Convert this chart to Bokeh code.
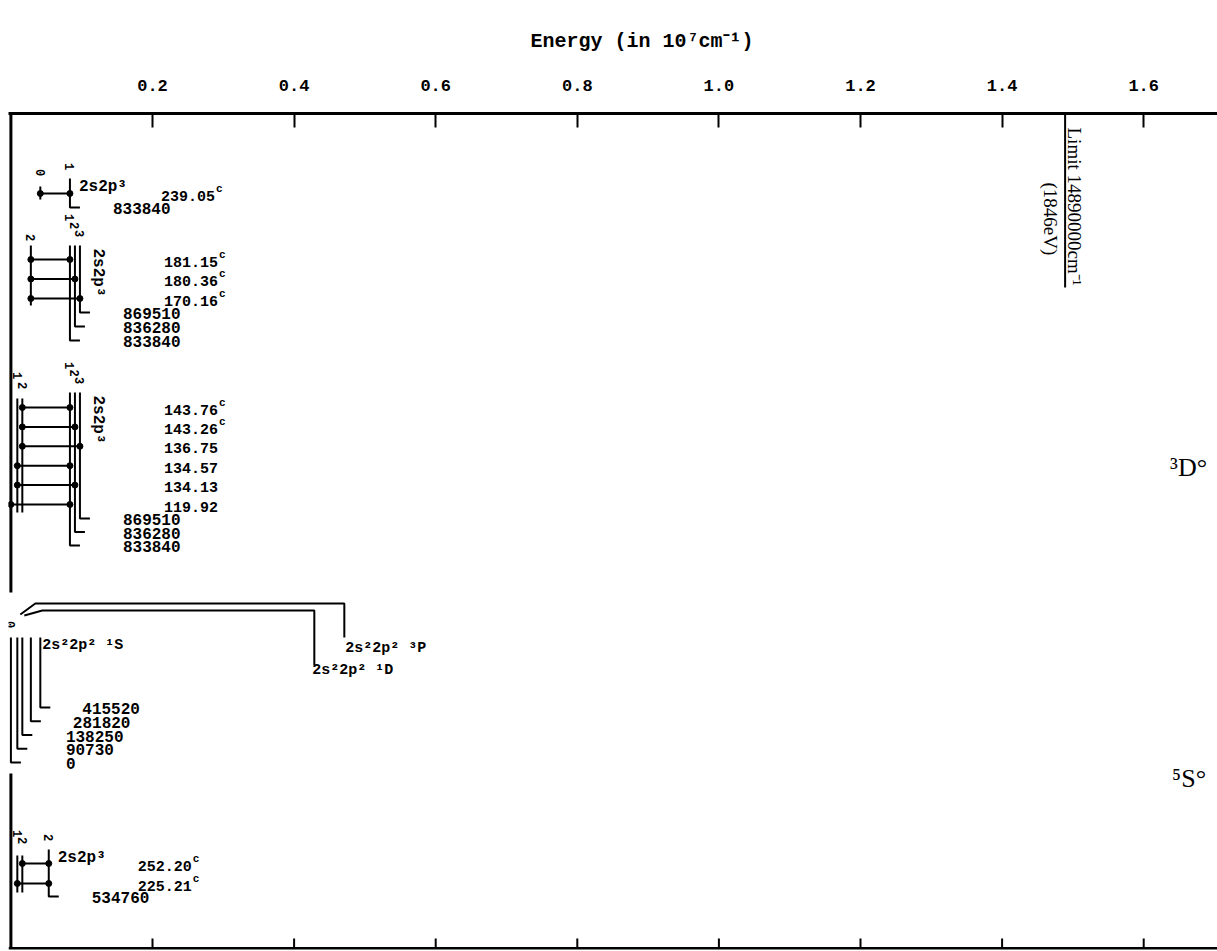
import math
from bokeh.plotting import figure
from bokeh.models import Range1d, FixedTicker, NumeralTickFormatter, Title
from bokeh.core.properties import value
from bokeh.embed import file_html
from bokeh.resources import INLINE

# ---------------- data ----------------
axis_ticks = [0.2, 0.4, 0.6, 0.8, 1.0, 1.2, 1.4, 1.6]
title_text = "Energy (in 10⁷cm⁻¹)"
limit_cm = 14890000
limit_text = "Limit 14890000cm⁻¹"
limit_ev_text = "(1846eV)"

# group 1 : 2s2p3 (J=1) - 2s2 2p2 1S0
g1_lower_E = [415520]
g1_lower_J = ["0"]
g1_upper_E = [833840]
g1_upper_J = ["1"]
g1_tr_lower = [0]
g1_tr_upper = [0]
g1_wavelength = ["239.05"]
g1_calc = [True]

# group 2 : 2s2p3 - 2s2 2p2 1D2
g2_lower_E = [281820]
g2_lower_J = ["2"]
g2_upper_E = [833840, 836280, 869510]
g2_upper_J = ["1", "2", "3"]
g2_tr_lower = [0, 0, 0]
g2_tr_upper = [0, 1, 2]
g2_wavelength = ["181.15", "180.36", "170.16"]
g2_calc = [True, True, True]

# group 3 : 2s2p3 3D - 2s2 2p2 3P
g3_lower_E = [0, 90730, 138250]
g3_lower_J = ["", "1", "2"]
g3_upper_E = [833840, 836280, 869510]
g3_upper_J = ["1", "2", "3"]
g3_tr_lower = [2, 2, 2, 1, 1, 0]
g3_tr_upper = [0, 1, 2, 0, 1, 0]
g3_wavelength = ["143.76", "143.26", "136.75", "134.57", "134.13", "119.92"]
g3_calc = [True, True, False, False, False, False]
g3_term = "³D°"

# ground configuration 2s2 2p2
gr_E = [0, 90730, 138250, 281820, 415520]
gr_label_1S = "2s²2p² ¹S"
gr_label_3P = "2s²2p² ³P"
gr_label_1D = "2s²2p² ¹D"

# group 5 : 2s2p3 5S - 2s2 2p2 3P
g5_lower_E = [0, 90730, 138250]
g5_lower_J = ["", "1", "2"]
g5_upper_E = [534760]
g5_upper_J = ["2"]
g5_tr_lower = [2, 1]
g5_tr_upper = [0, 0]
g5_wavelength = ["252.20", "225.21"]
g5_calc = [True, True]
g5_term = "⁵S°"

upper_config = "2s2p³"

# ---------------- layout ----------------
PX = 708.0                 # pixels per 10^7 cm^-1
ORIGIN_PX = 2.4            # pixel of zero energy from frame left
GAP = 5.0 / PX             # minimum drawn separation of close levels
L_LEN = 10.0 / PX
FONT = value("Liberation Mono")
WL_SIZE = 15
CW = 0.6 * WL_SIZE         # mono char width
SERIF = value("Liberation Serif")


def dx(px):
    return px / PX


def spread(E):
    xs, prev = [], None
    for e in E:
        x = e / 1e7
        if prev is not None and x < prev + GAP:
            x = prev + GAP
        xs.append(x)
        prev = x
    return xs


W, H = 1217, 951
BL, BT, BB = 8, 113, 2
x0 = -ORIGIN_PX / PX
YB, YT = 949, 113
p = figure(width=W, height=H,
           x_range=Range1d(x0, x0 + (W - BL) / PX),
           y_range=Range1d(YB, YT),
           output_backend="svg", toolbar_location=None,
           x_axis_location="above", y_axis_location=None,
           min_border_left=BL, min_border_right=0,
           min_border_top=BT, min_border_bottom=BB,
           title=Title(text=title_text, align="left", offset=522,
                       text_font="Liberation Mono", text_font_size="20px",
                       text_font_style="bold", text_color="black", standoff=47))
p.outline_line_color = None
p.xgrid.visible = False
p.ygrid.visible = False
p.background_fill_color = "white"

ax = p.xaxis[0]
ax.ticker = FixedTicker(ticks=axis_ticks)
ax.formatter = NumeralTickFormatter(format="0.0")
ax.major_tick_in = 14
ax.major_tick_out = 0
ax.minor_tick_in = 0
ax.minor_tick_out = 0
ax.axis_line_width = 3
ax.major_tick_line_width = 2
ax.major_label_standoff = 23
ax.major_label_text_font = "Liberation Mono"
ax.major_label_text_font_style = "bold"
ax.major_label_text_font_size = "17px"
ax.major_label_text_align = "left"
ax.major_label_text_color = "black"

LW = 2


def seg(xa, ya, xb, yb, w=LW):
    p.segment(x0=[xa], y0=[ya], x1=[xb], y1=[yb], line_color="black", line_width=w)


def txt(x, y, t, size="15px", align="left", angle=0.0, xo=0, yo=0, font=FONT, style="bold"):
    p.text(x=[x], y=[y], text=[t], text_font=font, text_font_style=style,
           text_font_size=size, text_align=align, text_baseline="middle",
           angle=angle, x_offset=xo, y_offset=yo, text_color="black")


def dots(xs, ys):
    p.scatter(x=xs, y=ys, size=6, color="black")


ROT = -math.pi / 2

# bottom axis line with inward ticks
seg(x0, 948, x0 + (W - BL) / PX, 948, 3)
p.segment(x0=axis_ticks, y0=[948] * len(axis_ticks), x1=axis_ticks, y1=[938] * len(axis_ticks),
          line_color="black", line_width=2)

# left frame (broken where the ground configuration sits)
seg(0, 113, 0, 592, 3)
seg(0, 773, 0, 948, 3)


def draw_group(lower_E, lower_J, upper_E, upper_J, tr_lo, tr_up, wls, calc, lay):
    lx = spread(lower_E)
    ux = spread(upper_E)
    # lower levels
    for x, e in zip(lx, lower_E):
        if e != 0:
            seg(x, lay["lo_top"], x, lay["lo_bot"])
    k = 0
    for x, j in zip(lx, lower_J):
        if j:
            txt(x, lay["jl_y0"] + k * lay["jl_step"], j, size="12px", align="center", angle=ROT)
            k += 1
    # upper levels with L-shaped tails
    order = sorted(range(len(ux)), key=lambda i: -ux[i])
    xr = ux[order[0]] + L_LEN
    xs_l, ys_l = [], []
    for k, i in enumerate(order):
        yb = lay["L_y0"] + k * lay["L_step"]
        xs_l.append([ux[i], ux[i], ux[i] + L_LEN])
        ys_l.append([lay["up_top"], yb, yb])
        txt(xr, yb + 1, str(upper_E[i]), size="16px", xo=33)
    p.multi_line(xs=xs_l, ys=ys_l, line_color="black", line_width=LW)
    for i, j in enumerate(upper_J):
        txt(ux[i], lay["ju_y0"] + i * lay["ju_step"], j, size="12px", align="center", angle=ROT)
    # transitions
    for r, (a, b) in enumerate(zip(tr_lo, tr_up)):
        y = lay["row_y0"] + r * lay["row_step"]
        seg(lx[a], y, ux[b], y)
        dots([lx[a], ux[b]], [y, y])
        txt(xr, y + lay["wl_dy"], wls[r], size=f"{WL_SIZE}px", xo=lay["wl_off"])
        if calc[r]:
            txt(xr, y + lay["wl_dy"], "c", size="11px", xo=lay["wl_off"] + len(wls[r]) * CW + 1, yo=-7)
    # configuration label
    if lay["cfg_rot"]:
        txt(xr, lay["cfg_y"], upper_config, size="16px", angle=ROT, xo=8)
    else:
        txt(ux[0], lay["cfg_y"], upper_config, size="16px", xo=9)


draw_group(g1_lower_E, g1_lower_J, g1_upper_E, g1_upper_J, g1_tr_lower, g1_tr_upper,
           g1_wavelength, g1_calc,
           dict(up_top=178, lo_top=186, lo_bot=199, L_y0=207, L_step=0, row_y0=193,
                row_step=0, ju_y0=166, ju_step=0, jl_y0=172, jl_step=0, cfg_y=186,
                cfg_rot=False, wl_dy=2, wl_off=81))

draw_group(g2_lower_E, g2_lower_J, g2_upper_E, g2_upper_J, g2_tr_lower, g2_tr_upper,
           g2_wavelength, g2_calc,
           dict(up_top=245, lo_top=245, lo_bot=305, L_y0=312, L_step=14, row_y0=259,
                row_step=19.5, ju_y0=217, ju_step=8, jl_y0=237, jl_step=0, cfg_y=248,
                cfg_rot=True, wl_dy=2, wl_off=74))

draw_group(g3_lower_E, g3_lower_J, g3_upper_E, g3_upper_J, g3_tr_lower, g3_tr_upper,
           g3_wavelength, g3_calc,
           dict(up_top=392, lo_top=398, lo_bot=512, L_y0=518, L_step=13.5, row_y0=407,
                row_step=19.4, ju_y0=365, ju_step=7.5, jl_y0=375, jl_step=10, cfg_y=395,
                cfg_rot=True, wl_dy=2, wl_off=74))

draw_group(g5_lower_E, g5_lower_J, g5_upper_E, g5_upper_J, g5_tr_lower, g5_tr_upper,
           g5_wavelength, g5_calc,
           dict(up_top=849, lo_top=855, lo_bot=892, L_y0=896, L_step=0, row_y0=863,
                row_step=20, ju_y0=837, ju_step=0, jl_y0=833, jl_step=7, cfg_y=857,
                cfg_rot=False, wl_dy=2, wl_off=79))

# ---------------- ground configuration ----------------
gx = spread(gr_E)
order = sorted(range(len(gx)), key=lambda i: -gx[i])
xs_l, ys_l = [], []
for k, i in enumerate(order):
    yb = 707 + k * 13.75
    xs_l.append([gx[i], gx[i], gx[i] + L_LEN])
    ys_l.append([637, yb, yb])
    xl = max(gx[i] + L_LEN + dx(32), dx(55))
    txt(xl, yb + 1, str(gr_E[i]), size="16px")
p.multi_line(xs=xs_l, ys=ys_l, line_color="black", line_width=LW)
txt(gx[0], 624, "0", size="12px", align="center", angle=ROT)
txt(gx[4], 645, gr_label_1S, xo=2)

x3p = gx[2] + dx(322)
x1d = gx[2] + dx(292)
p.multi_line(xs=[[gx[2] - dx(2), gx[2] + dx(13), x3p, x3p],
                 [gx[2] + dx(2), gx[2] + dx(20), x1d, x1d]],
             ys=[[614, 603, 603, 637], [615, 610, 610, 665]],
             line_color="black", line_width=LW)
txt(x3p, 648, gr_label_3P, xo=1)
txt(x1d, 670, gr_label_1D, xo=-2)

# ---------------- series limit ----------------
xlim = limit_cm / 1e7
seg(xlim, 113, xlim, 287)
txt(xlim, 127, limit_text, size="19px", angle=ROT, xo=9, font=SERIF, style="normal")
txt(xlim, 182, limit_ev_text, size="19px", angle=ROT, xo=-15, font=SERIF, style="normal")

# ---------------- term labels at right ----------------
txt(xlim, 467, g3_term, size="26px", xo=105, font=SERIF, style="normal")
txt(xlim, 778, g5_term, size="26px", xo=107, font=SERIF, style="normal")

open("out.html", "w").write(file_html(p, INLINE))
